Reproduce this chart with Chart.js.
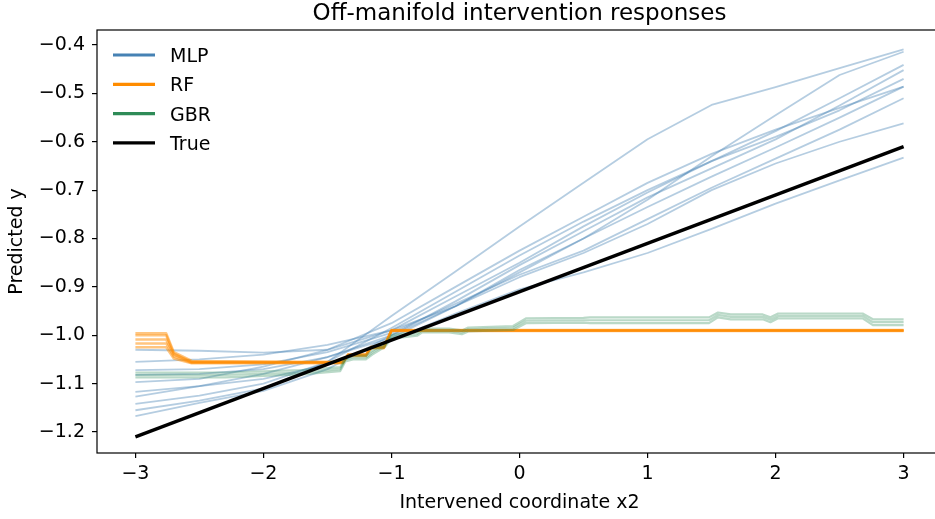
<!DOCTYPE html>
<html>
<head>
<meta charset="utf-8">
<script src="https://cdn.jsdelivr.net/npm/chart.js@4.4.1/dist/chart.umd.min.js"></script>
<style>
  html, body { margin: 0; padding: 0; background: #fff; overflow: hidden; }
  #wrap { width: 942px; height: 519px; }
</style>
</head>
<body>
<div id="wrap"><canvas id="offChart" width="942" height="519"></canvas></div>
<script>
const titleText = "Off-manifold intervention responses";
const xLabel = "Intervened coordinate x2";
const yLabel = "Predicted y";
const xTicks = [-3, -2, -1, 0, 1, 2, 3];
const yTicks = [-1.2, -1.1, -1.0, -0.9, -0.8, -0.7, -0.6, -0.5, -0.4];
const legendNames = ["MLP", "RF", "GBR", "True"];

// MLP runs, sampled on a shared grid
const mlpX = [-3, -2.5, -2, -1.5, -1, -0.5, 0, 0.5, 1, 1.5, 2, 2.5, 3];
const mlp1 = [-1.155, -1.135, -1.11, -1.055, -0.96, -0.868, -0.775, -0.685, -0.595, -0.524, -0.487, -0.448, -0.409];
const mlp2 = [-1.167, -1.14, -1.115, -1.07, -1.0, -0.94, -0.87, -0.80, -0.72, -0.63, -0.545, -0.462, -0.414];
const mlp3 = [-1.142, -1.125, -1.10, -1.055, -0.985, -0.91, -0.835, -0.765, -0.70, -0.64, -0.578, -0.51, -0.441];
const mlp4 = [-1.127, -1.105, -1.08, -1.045, -1.0, -0.93, -0.855, -0.785, -0.715, -0.655, -0.595, -0.525, -0.452];
const mlp5 = [-1.097, -1.09, -1.065, -1.03, -0.975, -0.90, -0.825, -0.755, -0.685, -0.625, -0.575, -0.53, -0.486];
const mlp6 = [-1.082, -1.08, -1.07, -1.045, -1.005, -0.94, -0.865, -0.80, -0.735, -0.672, -0.612, -0.55, -0.486];
const mlp7 = [-1.072, -1.07, -1.06, -1.035, -0.995, -0.935, -0.875, -0.825, -0.76, -0.695, -0.635, -0.575, -0.51];
const mlp8 = [-1.055, -1.05, -1.04, -1.02, -0.99, -0.94, -0.88, -0.83, -0.77, -0.70, -0.645, -0.60, -0.562];
const mlp9 = [-1.117, -1.105, -1.09, -1.06, -1.01, -0.955, -0.905, -0.87, -0.83, -0.78, -0.728, -0.68, -0.633];
const mlp10 = [-1.03, -1.032, -1.036, -1.03, -0.99, -0.92, -0.85, -0.775, -0.705, -0.64, -0.59, -0.535, -0.47];
const mlpRuns = [mlp1, mlp2, mlp3, mlp4, mlp5, mlp6, mlp7, mlp8, mlp9, mlp10];

// RF runs (step functions)
const rfX = [-3, -2.76, -2.7, -2.56, -1.7, -1.38, -1.34, -1.2, -1.16, -1.06, -1.0, 3];
const rf1 = [-0.996, -0.996, -1.035, -1.053, -1.055, -1.055, -1.04, -1.04, -1.025, -1.025, -0.99, -0.99];
const rf2 = [-1.0, -1.0, -1.038, -1.055, -1.056, -1.056, -1.042, -1.042, -1.027, -1.027, -0.991, -0.991];
const rf3 = [-1.009, -1.009, -1.04, -1.056, -1.056, -1.056, -1.043, -1.043, -1.026, -1.026, -0.99, -0.99];
const rf4 = [-1.017, -1.017, -1.044, -1.057, -1.057, -1.057, -1.041, -1.041, -1.024, -1.024, -0.989, -0.989];
const rf5 = [-1.025, -1.025, -1.048, -1.058, -1.058, -1.058, -1.04, -1.04, -1.025, -1.025, -0.99, -0.99];
const rfRuns = [rf1, rf2, rf3, rf4, rf5];

// GBR runs
const gbrX = [-3, -2.3, -1.7, -1.4, -1.36, -1.3, -1.2, -1.15, -1.05, -1.0, -0.8, -0.76, -0.55, -0.45, -0.4, -0.05, 0.05, 0.5, 0.55, 1.48, 1.55, 1.65, 1.9, 1.96, 2.02, 2.68, 2.76, 3];
const gbr1 = [-1.077, -1.077, -1.072, -1.066, -1.046, -1.042, -1.042, -1.032, -1.016, -0.999, -0.993, -0.986, -0.986, -0.99, -0.984, -0.981, -0.965, -0.964, -0.963, -0.963, -0.953, -0.957, -0.957, -0.963, -0.955, -0.955, -0.967, -0.967];
const gbr2 = [-1.082, -1.082, -1.077, -1.07, -1.05, -1.046, -1.046, -1.036, -1.02, -1.003, -0.997, -0.99, -0.99, -0.994, -0.988, -0.985, -0.97, -0.969, -0.969, -0.969, -0.958, -0.962, -0.962, -0.968, -0.96, -0.96, -0.973, -0.973];
const gbr3 = [-1.087, -1.087, -1.081, -1.074, -1.054, -1.05, -1.05, -1.04, -1.024, -1.007, -1.001, -0.994, -0.994, -0.998, -0.992, -0.989, -0.975, -0.974, -0.975, -0.975, -0.963, -0.967, -0.967, -0.973, -0.965, -0.965, -0.979, -0.979];
const gbrRuns = [gbr1, gbr2, gbr3];

// ground truth
const trueX = [-3, 3];
const trueY = [-1.21, -0.61];

const pts = (xs, ys) => xs.map((x, i) => ({ x: x, y: ys[i] }));
const fmt = (v, digits) => (v < -1e-9 ? "\u2212" : "") + Math.abs(v).toFixed(digits);

const datasets = [];
datasets.push({ data: pts(trueX, trueY), borderColor: "#000", borderWidth: 3.4, order: 0 });
gbrRuns.forEach(r => datasets.push({ data: pts(gbrX, r), borderColor: "rgba(46,139,87,0.33)", borderWidth: 2.2, order: 1 }));
rfRuns.forEach(r => datasets.push({ data: pts(rfX, r), borderColor: "rgba(255,140,0,0.5)", borderWidth: 2.5, order: 2 }));
mlpRuns.forEach(r => datasets.push({ data: pts(mlpX, r), borderColor: "rgba(70,130,180,0.4)", borderWidth: 1.8, order: 3 }));

const legendColors = ["#4682b4", "#ff8c00", "#2e8b57", "#000000"];

const decor = {
    id: "decor",
    afterDraw(chart) {
        const { ctx, chartArea: a } = chart;
        ctx.save();
        ctx.strokeStyle = "#000";
        ctx.lineWidth = 1.2;
        ctx.strokeRect(a.left, a.top, a.right - a.left, a.bottom - a.top);
        ctx.fillStyle = "#000";
        ctx.font = '23px "DejaVu Sans"';
        ctx.textAlign = "center";
        ctx.textBaseline = "alphabetic";
        ctx.fillText(titleText, (a.left + a.right) / 2, 20);
        // legend, upper left, no frame
        ctx.font = '19px "DejaVu Sans"';
        ctx.textAlign = "left";
        legendNames.forEach((name, i) => {
            const y = 55 + i * 29.3;
            ctx.strokeStyle = legendColors[i];
            ctx.lineWidth = 3.2;
            ctx.beginPath();
            ctx.moveTo(113, y);
            ctx.lineTo(155, y);
            ctx.stroke();
            ctx.fillText(name, 170, y + 7);
        });
        ctx.restore();
    },
};

Chart.defaults.font.family = '"DejaVu Sans"';
Chart.defaults.color = "#000";

const ctx = document.getElementById("offChart").getContext("2d");
new Chart(ctx, {
    type: "line",
    data: { datasets: datasets },
    options: {
        responsive: false,
        animation: false,
        devicePixelRatio: 1,
        layout: { padding: { top: 30, right: 0, left: 0, bottom: 0 } },
        elements: {
            point: { radius: 0 },
            line: { tension: 0, fill: false, borderJoinStyle: "round" },
        },
        scales: {
            x: {
                type: "linear",
                min: -3.3,
                max: 3.3,
                afterBuildTicks: s => { s.ticks = xTicks.map(v => ({ value: v })); },
                afterFit: s => { s.height = 66; },
                ticks: { font: { size: 19 }, padding: 5, maxRotation: 0, callback: v => fmt(v, 0) },
                grid: { drawOnChartArea: false, drawTicks: true, tickLength: 5, color: "#000", lineWidth: 1.2 },
                border: { display: false },
                title: { display: true, text: xLabel, font: { size: 19 }, padding: { top: 0, bottom: 5 } },
            },
            y: {
                type: "linear",
                min: -1.2434,
                max: -0.369,
                afterBuildTicks: s => { s.ticks = yTicks.map(v => ({ value: v })); },
                afterFit: s => { s.width = 97; },
                ticks: { font: { size: 19 }, padding: 7, callback: v => fmt(v, 1) },
                grid: { drawOnChartArea: false, drawTicks: true, tickLength: 5, color: "#000", lineWidth: 1.2 },
                border: { display: false },
                title: { display: true, text: yLabel, font: { size: 19 }, padding: { top: 6, bottom: 0 } },
            },
        },
        plugins: {
            legend: { display: false },
            tooltip: { enabled: false },
            title: { display: false },
        },
    },
    plugins: [decor],
});
</script>
</body>
</html>
